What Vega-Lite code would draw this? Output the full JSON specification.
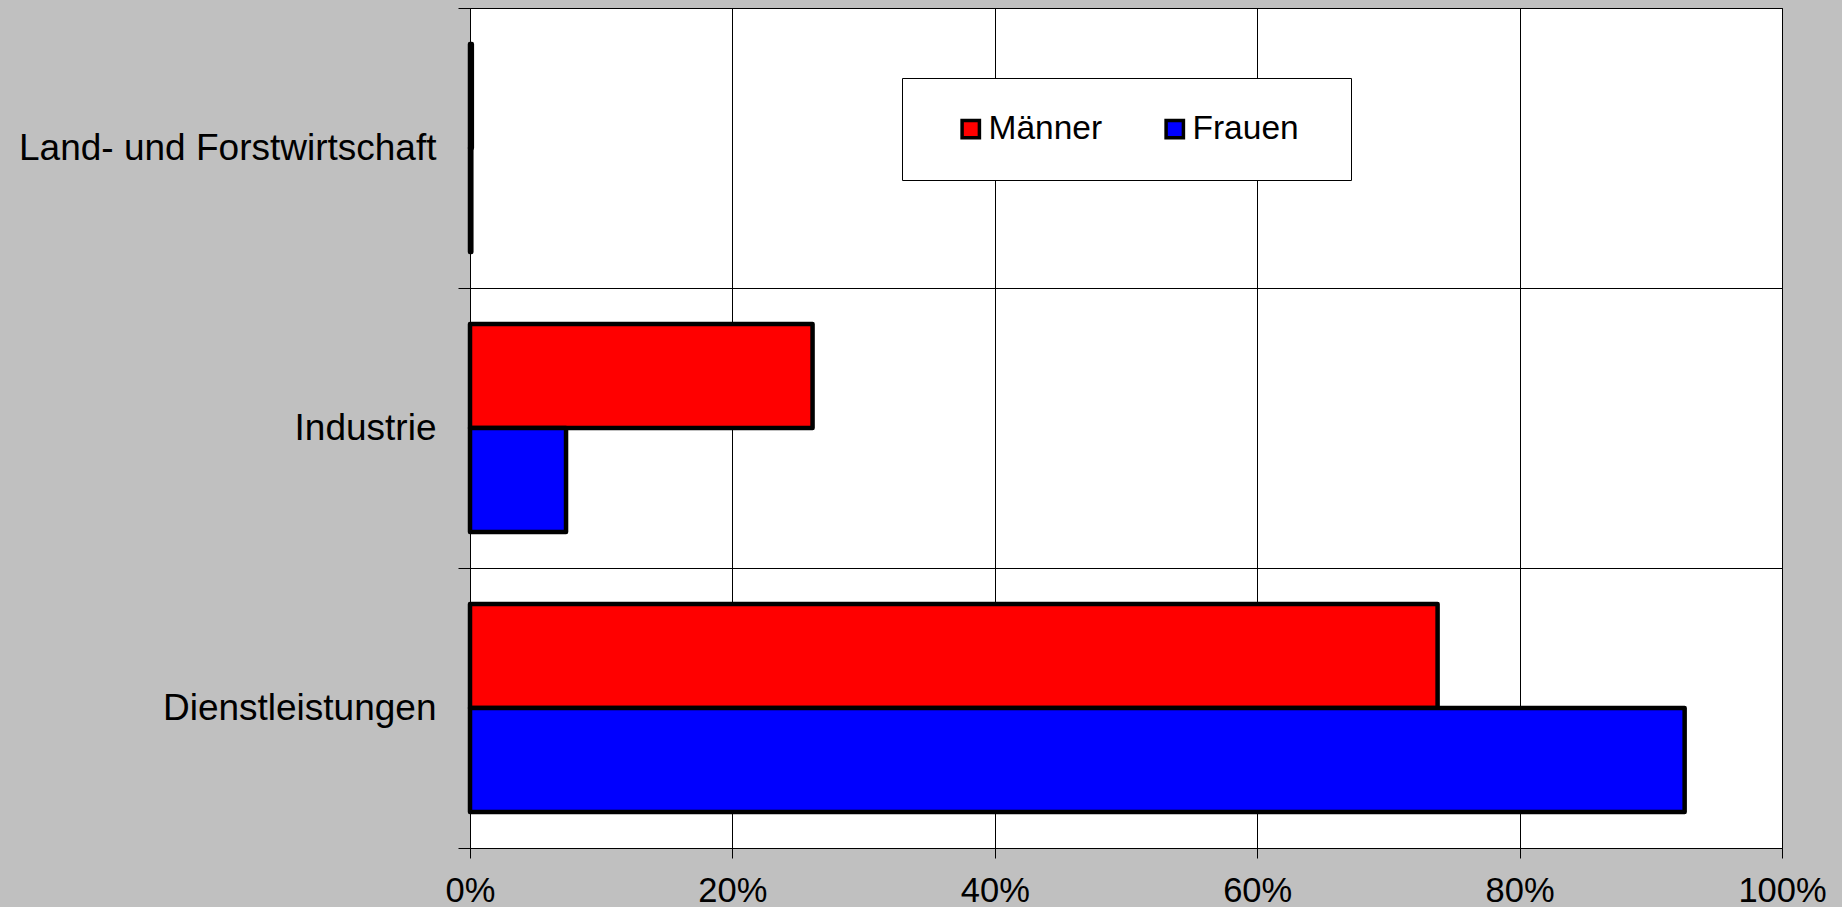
{
  "$schema": "https://vega.github.io/schema/vega-lite/v6.json",
  "width": 1312,
  "height": 840,
  "autosize": {"type": "none"},
  "padding": {"left": 470, "top": 8, "right": 60, "bottom": 59},
  "background": "#C0C0C0",
  "config": {
    "font": "Liberation Sans",
    "view": {"fill": "white", "stroke": "black", "strokeWidth": 1}
  },
  "data": {
    "values": [
      {"sektor": "Land- und Forstwirtschaft", "geschlecht": "Männer", "anteil": 0.0014},
      {"sektor": "Land- und Forstwirtschaft", "geschlecht": "Frauen", "anteil": 0.001},
      {"sektor": "Industrie", "geschlecht": "Männer", "anteil": 0.2611},
      {"sektor": "Industrie", "geschlecht": "Frauen", "anteil": 0.0732},
      {"sektor": "Dienstleistungen", "geschlecht": "Männer", "anteil": 0.7375},
      {"sektor": "Dienstleistungen", "geschlecht": "Frauen", "anteil": 0.9258}
    ]
  },
  "mark": {"type": "bar", "stroke": "black", "strokeWidth": 4.5, "strokeJoin": "round"},
  "encoding": {
    "y": {
      "field": "sektor",
      "type": "nominal",
      "sort": ["Land- und Forstwirtschaft", "Industrie", "Dienstleistungen"],
      "scale": {"paddingInner": 0, "paddingOuter": 0},
      "axis": {
        "title": null,
        "domain": false,
        "tickBand": "extent",
        "grid": true,
        "gridColor": "black",
        "gridOpacity": 1,
        "gridWidth": 1,
        "tickColor": "black",
        "tickSize": 12,
        "tickWidth": 1,
        "labelFontSize": 37,
        "labelColor": "black",
        "labelPadding": 22,
        "labelLimit": 0
      }
    },
    "yOffset": {
      "field": "geschlecht",
      "type": "nominal",
      "sort": ["Männer", "Frauen"],
      "scale": {"paddingInner": 0, "paddingOuter": 0.3462}
    },
    "x": {
      "field": "anteil",
      "type": "quantitative",
      "scale": {"domain": [0, 1], "nice": false},
      "axis": {
        "title": null,
        "domain": false,
        "values": [0, 0.2, 0.4, 0.6, 0.8, 1],
        "format": ".0%",
        "grid": true,
        "gridColor": "black",
        "gridOpacity": 1,
        "gridWidth": 1,
        "tickColor": "black",
        "tickSize": 10,
        "tickWidth": 1,
        "labelFontSize": 34.5,
        "labelColor": "black",
        "labelPadding": 16,
        "labelFlush": false
      }
    },
    "color": {
      "field": "geschlecht",
      "type": "nominal",
      "sort": ["Männer", "Frauen"],
      "scale": {"domain": ["Männer", "Frauen"], "range": ["#FF0000", "#0000FF"]},
      "legend": {
        "title": "\u00a0",
        "titleOrient": "right",
        "titleFontSize": 20,
        "titlePadding": 18,
        "orient": "none",
        "legendX": 432,
        "legendY": 70,
        "direction": "horizontal",
        "columns": 2,
        "fillColor": "white",
        "strokeColor": "black",
        "padding": 34,
        "symbolType": "square",
        "symbolSize": 300,
        "symbolStrokeColor": "black",
        "symbolStrokeWidth": 3.5,
        "symbolOffset": 18,
        "labelOffset": 1,
        "labelFontSize": 33.5,
        "labelColor": "black",
        "labelLimit": 0,
        "columnPadding": 37
      }
    }
  }
}
